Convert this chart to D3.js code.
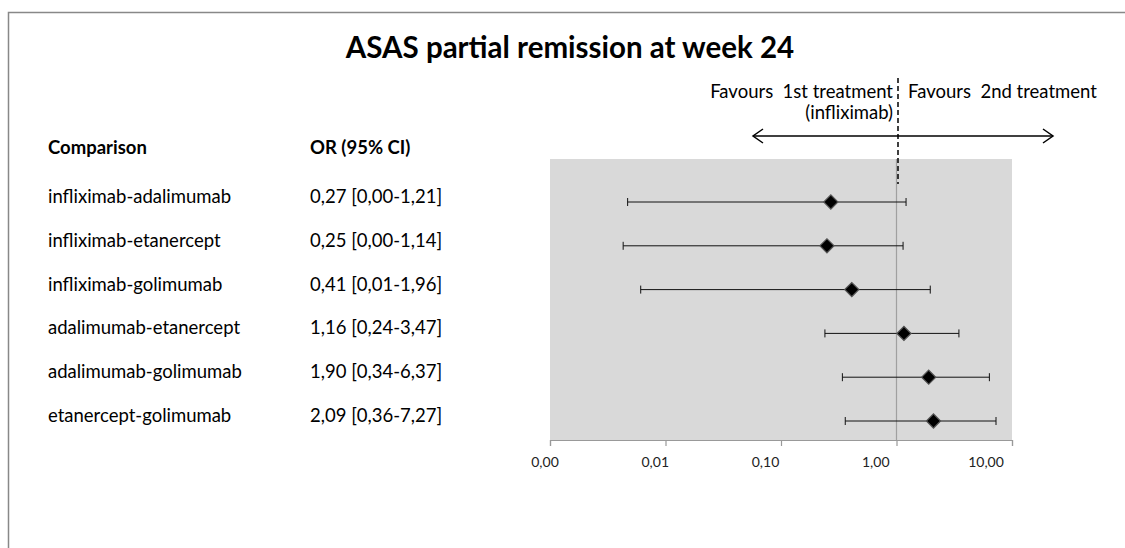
<!DOCTYPE html>
<html>
<head>
<meta charset="utf-8">
<script src="https://cdn.jsdelivr.net/npm/d3@7"></script>
<style>
  body { margin: 0; background: #fff; }
  svg { display: block; font-family: Lato, "Open Sans", sans-serif; }
</style>
</head>
<body>
<script>
// data
const comparisons = [
  "infliximab-adalimumab",
  "infliximab-etanercept",
  "infliximab-golimumab",
  "adalimumab-etanercept",
  "adalimumab-golimumab",
  "etanercept-golimumab"
];
const orValues = [0.27, 0.25, 0.41, 1.16, 1.90, 2.09];
const ciLower = [0.0047, 0.0043, 0.0061, 0.24, 0.34, 0.36];
const ciUpper = [1.21, 1.14, 1.96, 3.47, 6.37, 7.27];
const ciLabels = [
  "0,27 [0,00-1,21]",
  "0,25 [0,00-1,14]",
  "0,41 [0,01-1,96]",
  "1,16 [0,24-3,47]",
  "1,90 [0,34-6,37]",
  "2,09 [0,36-7,27]"
];
const tickValues = [0.001, 0.01, 0.1, 1, 10];
const tickLabels = ["0,00", "0,01", "0,10", "1,00", "10,00"];

const width = 1125;
const height = 548;
const plot = { left: 550, right: 1012, top: 159, bottom: 440 };
const fs = '18.5px';

const rows = comparisons.map((c, i) => ({
  name: c, or: orValues[i], lo: ciLower[i], hi: ciUpper[i], label: ciLabels[i]
}));

const svg = d3.select('body')
  .append('svg')
  .attr('width', width)
  .attr('height', height);

// outer frame
svg.append('rect')
  .attr('x', 8.5).attr('y', 12.5)
  .attr('width', width).attr('height', height)
  .attr('fill', 'none')
  .attr('stroke', '#888')
  .attr('stroke-width', 1.5);

const x = d3.scaleLog()
  .domain([0.001, 10])
  .range([plot.left, plot.right]);

// excel spreads the labels a bit tighter than the ticks
const xLabel = d3.scalePoint()
  .domain(tickLabels)
  .range([545, 986]);

const y = d3.scalePoint()
  .domain(comparisons)
  .range([202, 421]);

// title
svg.append('text')
  .attr('x', 570).attr('y', 58)
  .attr('text-anchor', 'middle')
  .style('font-size', '29.5px')
  .style('font-weight', 'bold')
  .text('ASAS partial remission at week 24');

// plot area
svg.append('rect')
  .attr('x', plot.left).attr('y', plot.top)
  .attr('width', plot.right - plot.left)
  .attr('height', plot.bottom - plot.top)
  .attr('fill', '#d9d9d9');

// reference line at 1
svg.append('line')
  .attr('x1', x(1)).attr('x2', x(1))
  .attr('y1', plot.top).attr('y2', plot.bottom)
  .attr('stroke', '#a0a0a0')
  .attr('stroke-width', 1.2);

// axis
const axis = svg.append('g')
  .attr('transform', `translate(0,${plot.bottom})`)
  .call(d3.axisBottom(x)
    .tickValues(tickValues)
    .tickFormat('')
    .tickSizeOuter(0)
    .tickSize(6));
axis.select('.domain').attr('stroke', '#999').attr('stroke-width', 1.2);
axis.selectAll('.tick line').attr('stroke', '#999').attr('stroke-width', 1.2);

svg.selectAll('.tick-label')
  .data(tickLabels)
  .enter()
  .append('text')
  .attr('class', 'tick-label')
  .attr('x', d => xLabel(d))
  .attr('y', plot.bottom + 27)
  .attr('text-anchor', 'middle')
  .style('font-size', '14px')
  .attr('fill', '#222')
  .text(d => d);

// header text
svg.append('text').attr('x', 48).attr('y', 154)
  .style('font-size', fs).style('font-weight', 'bold')
  .text('Comparison');
svg.append('text').attr('x', 310).attr('y', 154)
  .style('font-size', fs).style('font-weight', 'bold')
  .text('OR (95% CI)');

svg.selectAll('.name')
  .data(rows)
  .enter()
  .append('text')
  .attr('class', 'name')
  .attr('x', 48)
  .attr('y', d => y(d.name) + 1)
  .style('font-size', fs)
  .text(d => d.name);

svg.selectAll('.ci')
  .data(rows)
  .enter()
  .append('text')
  .attr('class', 'ci')
  .attr('x', 310)
  .attr('y', d => y(d.name) + 1)
  .style('font-size', fs)
  .text(d => d.label);

// whiskers
const g = svg.selectAll('.row')
  .data(rows)
  .enter()
  .append('g')
  .attr('class', 'row');

g.append('line')
  .attr('x1', d => x(d.lo)).attr('x2', d => x(d.hi))
  .attr('y1', d => y(d.name)).attr('y2', d => y(d.name))
  .attr('stroke', '#111').attr('stroke-width', 1);
g.append('line')
  .attr('x1', d => x(d.lo)).attr('x2', d => x(d.lo))
  .attr('y1', d => y(d.name) - 4).attr('y2', d => y(d.name) + 4)
  .attr('stroke', '#111').attr('stroke-width', 1);
g.append('line')
  .attr('x1', d => x(d.hi)).attr('x2', d => x(d.hi))
  .attr('y1', d => y(d.name) - 4).attr('y2', d => y(d.name) + 4)
  .attr('stroke', '#111').attr('stroke-width', 1);

g.append('path')
  .attr('d', d3.symbol().type(d3.symbolSquare).size(100))
  .attr('transform', d => `translate(${x(d.or)},${y(d.name)}) rotate(45)`)
  .attr('fill', '#000')
  .attr('stroke', '#555')
  .attr('stroke-width', 1.2);

// favours annotation
const xRef = x(1) + 1.5;
svg.append('line')
  .attr('x1', xRef).attr('x2', xRef)
  .attr('y1', 78).attr('y2', 184)
  .attr('stroke', '#000')
  .attr('stroke-width', 1.5)
  .attr('stroke-dasharray', '5,3');

svg.append('text').attr('x', 893).attr('y', 98)
  .attr('text-anchor', 'end')
  .style('font-size', fs)
  .style('white-space', 'pre')
  .text('Favours  1st treatment');
svg.append('text').attr('x', 893).attr('y', 119)
  .attr('text-anchor', 'end')
  .style('font-size', fs)
  .text('(infliximab)');
svg.append('text').attr('x', 908).attr('y', 98)
  .style('font-size', fs)
  .style('white-space', 'pre')
  .text('Favours  2nd treatment');

const arrowY = 136;
svg.append('line')
  .attr('x1', 753).attr('x2', 1053)
  .attr('y1', arrowY).attr('y2', arrowY)
  .attr('stroke', '#000').attr('stroke-width', 1.5);
svg.append('path')
  .attr('d', `M763,${arrowY - 7} L753,${arrowY} L763,${arrowY + 7}`)
  .attr('fill', 'none').attr('stroke', '#000').attr('stroke-width', 1.5);
svg.append('path')
  .attr('d', `M1043,${arrowY - 7} L1053,${arrowY} L1043,${arrowY + 7}`)
  .attr('fill', 'none').attr('stroke', '#000').attr('stroke-width', 1.5);
</script>
</body>
</html>
